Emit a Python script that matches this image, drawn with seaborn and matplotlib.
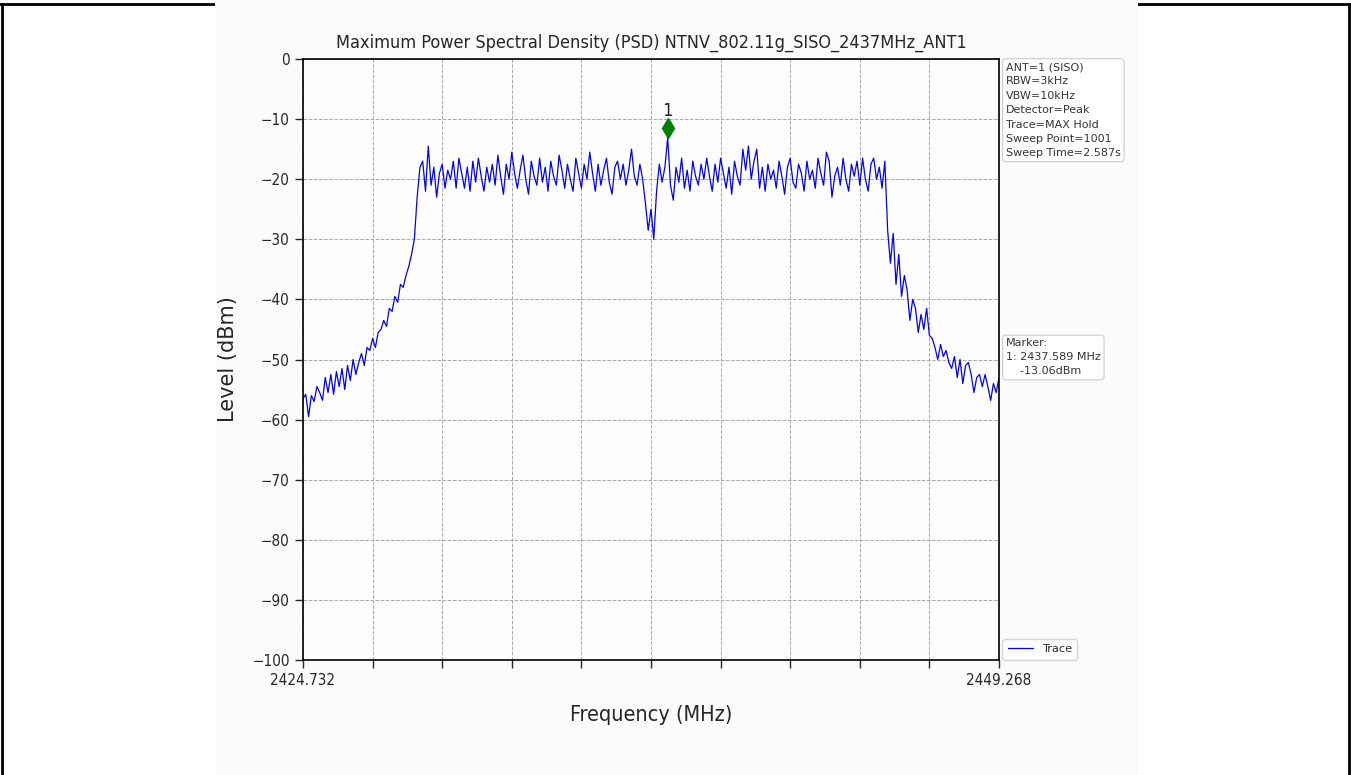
import numpy as np
import pandas as pd
import seaborn as sns
import matplotlib
matplotlib.use("Agg")
import matplotlib.pyplot as plt
from matplotlib.lines import Line2D
from matplotlib.patches import Rectangle
from matplotlib.transforms import offset_copy

# sweep settings
f_start = 2424.732
f_stop = 2449.268
y_ticks = [0, -10, -20, -30, -40, -50, -60, -70, -80, -90, -100]

# trace levels (dBm), left to right
left_skirt = [-56.5, -55.8, -59.5, -56, -57, -54.5, -55.5, -56.8, -53, -55.5,
              -52.5, -55.8, -52, -54.5, -51.5, -55, -51, -53.5, -50, -52.5,
              -50.5, -49, -51, -48, -48.5, -46.5, -48, -45.5, -45, -43.5,
              -44.5, -41.5, -42, -39.5, -40.5, -37.5, -38, -36, -34.5, -32.5,
              -30, -23]
in_band = [-18, -17, -22, -14.5, -21, -18, -23, -19, -17.5, -21.5, -18.5, -20,
           -17, -21.5, -16.5, -19, -21.5, -18, -22, -17, -20.5, -16.5, -19.5, -22,
           -18, -20.5, -17.5, -21, -16, -19.5, -22.5, -17.5, -20, -15.5, -19, -21.5,
           -18.5, -16, -20, -22.5, -17, -19.5, -21, -16.5, -20.5, -18, -22, -17,
           -19.5, -21, -16, -18.5, -21.5, -17.5, -20, -22, -16.5, -19, -21.5, -17.5,
           -20, -15.5, -19, -22, -17.5, -21, -18.5, -16.5, -20.5, -22.5, -18, -17,
           -20, -17.5, -21, -18.5, -15, -19.5, -21, -17.5,
           -20, -24, -28.5, -25, -30, -22, -17.5,
           -20.5, -18, -13.06,
           -21, -23.5, -18, -20.5, -16.5, -21.5, -18.5, -22, -17, -19.5, -21, -17.5,
           -20, -16.5, -19.5, -22, -17.5, -20.5, -16.5, -19, -21.5, -18, -22.5, -17,
           -19.5, -21, -15, -18.5, -14.5, -20, -17, -15, -21.5, -18, -22, -17.5,
           -20, -18.5, -21.5, -17, -19.5, -22.5, -18, -16.5, -20.5, -21.5, -17.5, -19,
           -22, -17, -20, -18.5, -21.5, -16.5, -19, -21, -15.5, -17, -23, -19.5,
           -18, -21, -16.5, -20, -22, -17.5, -19.5, -17, -21, -16.5, -20, -22,
           -17.5, -16.5, -20, -18, -21.5, -17]
right_skirt = [-28.5, -34, -29, -37.5, -32.5, -39.5, -36, -38.5, -43.5, -40,
               -41.5, -45.5, -42.5, -45, -41.5, -46, -46.5, -48, -50, -47.5,
               -49.5, -48.5, -50.5, -51.5, -49.5, -53, -50, -54, -51, -50.5,
               -52.5, -55.5, -53, -52.5, -54.5, -52.5, -54.5, -56.8, -54, -55.5,
               -53]
trace_levels = left_skirt + in_band + right_skirt

# marker 1
marker_freq = 2437.589
marker_level = -13.06

info_text = ("ANT=1 (SISO)\nRBW=3kHz\nVBW=10kHz\nDetector=Peak\n"
             "Trace=MAX Hold\nSweep Point=1001\nSweep Time=2.587s")
marker_text = "Marker:\n1: %.3f MHz\n    %.2fdBm" % (marker_freq, marker_level)

df = pd.DataFrame({"freq": np.linspace(f_start, f_stop, len(trace_levels)),
                   "level": trace_levels})

sns.set_style("ticks")
plt.rcParams["font.family"] = ["DejaVu Sans"]

W, H = 1351, 775
fig = plt.figure(figsize=(W / 100, H / 100), dpi=100, facecolor="white")

# page border and grey image panel
for xs, ys in [([0, 1], [1 - 4 / H] * 2), ([2 / W] * 2, [0, 1 - 4 / H]),
               ([1 - 2 / W] * 2, [0, 1 - 4 / H])]:
    fig.add_artist(Line2D(xs, ys, color="black", lw=2, transform=fig.transFigure, zorder=0))
fig.add_artist(Rectangle((215 / W, 0), (1138 - 215) / W, 1, transform=fig.transFigure,
                         facecolor="#fbfbfb", edgecolor="none", zorder=1))

ax = fig.add_axes([303 / W, 1 - 660 / H, (999 - 303) / W, (660 - 59) / H], zorder=2)
ax.set_facecolor("#fdfdfd")

sns.lineplot(data=df, x="freq", y="level", color="blue", lw=0.9, label="Trace", ax=ax)

# marker diamond sits a bit above the trace point
mk_tr = offset_copy(ax.transData, fig=fig, x=0, y=9, units="dots")
ax.plot([marker_freq], [marker_level], marker="d", color="green", ms=10, ls="none",
        transform=mk_tr)
ax.annotate("1", (marker_freq, marker_level), xytext=(0, 26), textcoords="offset pixels",
            ha="center", va="center", fontsize=12)

ax.set_xlim(f_start, f_stop)
ax.set_ylim(-100, 0)
xt = np.linspace(f_start, f_stop, 11)
ax.set_xticks(xt)
ax.set_xticklabels(["%.3f" % f_start] + [""] * 9 + ["%.3f" % f_stop])
ax.set_yticks(y_ticks)
ax.tick_params(axis="both", direction="out", length=6, width=1, labelsize=11)
for lab in ax.get_xticklabels() + ax.get_yticklabels():
    lab.set_fontstretch("condensed")
ax.grid(True, ls="--", color="#a8a8a8", lw=0.7)
for s in ax.spines.values():
    s.set_visible(True)
    s.set_color("black")
    s.set_linewidth(1.2)

ax.set_title("Maximum Power Spectral Density (PSD) NTNV_802.11g_SISO_2437MHz_ANT1",
             fontsize=13, fontstretch="condensed", pad=8)
ax.set_xlabel("Frequency (MHz)", fontsize=15.5, fontstretch="condensed", labelpad=12)
ax.set_ylabel("Level (dBm)", fontsize=15, labelpad=10)

box = dict(boxstyle="round,pad=0.3", facecolor="white", edgecolor="#cccccc", lw=0.8)
ax.text(1.01, 0.995, info_text, transform=ax.transAxes, ha="left", va="top",
        fontsize=8, color="#333333", bbox=box, linespacing=1.55)
ax.text(1.01, 0.535, marker_text, transform=ax.transAxes, ha="left", va="top",
        fontsize=8, color="#333333", bbox=box, linespacing=1.5)

ax.legend(loc="lower left", bbox_to_anchor=(1.0, -0.005), fontsize=8.2, frameon=True,
          handlelength=2.2, borderaxespad=0.3, borderpad=0.45)

fig.savefig("out.png", dpi=100, facecolor="white")
